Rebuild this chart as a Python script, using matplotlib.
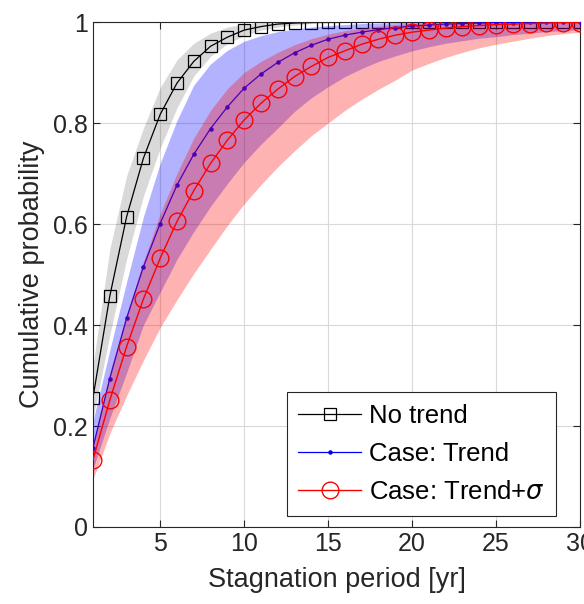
import matplotlib.pyplot as plt
import numpy as np

plt.rcParams['font.family'] = ['Liberation Sans', 'DejaVu Sans']

# Stagnation period [yr]
years = list(range(1, 31))

# cumulative probability
no_trend = [0.256, 0.457, 0.614, 0.730, 0.817, 0.879, 0.922, 0.952, 0.970, 0.984,
            0.991, 0.996, 0.998, 0.999, 1.0, 1.0, 1.0, 1.0, 1.0, 1.0,
            1.0, 1.0, 1.0, 1.0, 1.0, 1.0, 1.0, 1.0, 1.0, 1.0]
no_trend_lo = [0.215, 0.38, 0.53, 0.655, 0.75, 0.83, 0.893, 0.932, 0.957, 0.973,
               0.984, 0.99, 0.994, 0.997, 0.998, 0.999, 1.0, 1.0, 1.0, 1.0,
               1.0, 1.0, 1.0, 1.0, 1.0, 1.0, 1.0, 1.0, 1.0, 1.0]
no_trend_hi = [0.32, 0.55, 0.695, 0.79, 0.87, 0.925, 0.958, 0.978, 0.99, 0.996,
               0.999, 1.0, 1.0, 1.0, 1.0, 1.0, 1.0, 1.0, 1.0, 1.0,
               1.0, 1.0, 1.0, 1.0, 1.0, 1.0, 1.0, 1.0, 1.0, 1.0]

trend = [0.157, 0.294, 0.413, 0.515, 0.601, 0.677, 0.738, 0.789, 0.832, 0.869,
         0.897, 0.920, 0.939, 0.954, 0.966, 0.974, 0.980, 0.985, 0.989, 0.992,
         0.994, 0.996, 0.997, 0.998, 0.999, 0.999, 1.0, 1.0, 1.0, 1.0]
trend_lo = [0.115, 0.215, 0.305, 0.40, 0.465, 0.53, 0.585, 0.635, 0.68, 0.722,
            0.758, 0.79, 0.823, 0.85, 0.872, 0.892, 0.908, 0.922, 0.933, 0.943,
            0.951, 0.958, 0.963, 0.968, 0.971, 0.975, 0.978, 0.981, 0.983, 0.985]
trend_hi = [0.21, 0.35, 0.485, 0.614, 0.72, 0.805, 0.875, 0.917, 0.944, 0.962,
            0.973, 0.981, 0.986, 0.99, 0.993, 0.995, 0.997, 0.998, 0.999, 1.0,
            1.0, 1.0, 1.0, 1.0, 1.0, 1.0, 1.0, 1.0, 1.0, 1.0]

trend_sig = [0.133, 0.251, 0.357, 0.451, 0.532, 0.605, 0.666, 0.720, 0.766, 0.806,
             0.839, 0.867, 0.892, 0.912, 0.930, 0.943, 0.956, 0.966, 0.974, 0.980,
             0.984, 0.988, 0.991, 0.993, 0.995, 0.996, 0.997, 0.998, 0.999, 0.999]
trend_sig_lo = [0.095, 0.185, 0.26, 0.33, 0.395, 0.45, 0.502, 0.55, 0.597, 0.64,
                0.678, 0.713, 0.745, 0.775, 0.80, 0.825, 0.847, 0.867, 0.885, 0.905,
                0.918, 0.93, 0.94, 0.949, 0.956, 0.962, 0.968, 0.973, 0.977, 0.98]
trend_sig_hi = [0.165, 0.305, 0.42, 0.525, 0.62, 0.70, 0.77, 0.825, 0.868, 0.90,
                0.922, 0.94, 0.955, 0.967, 0.976, 0.983, 0.988, 0.992, 0.995, 0.997,
                0.998, 0.999, 1.0, 1.0, 1.0, 1.0, 1.0, 1.0, 1.0, 1.0]

fig = plt.figure(figsize=(5.84, 6.04), dpi=100)
ax = fig.add_axes([0.1592, 0.1275, 0.834, 0.836])

# bands first, then lines on top (blue line sits under the red band)
ax.fill_between(years, no_trend_lo, no_trend_hi, color='k', alpha=0.15, lw=0, zorder=1)
ax.plot(years, no_trend, color='k', ls='-', marker='s', lw=0.9, ms=8, mfc='none',
        mew=0.9, label='No trend', zorder=2)
ax.fill_between(years, trend_lo, trend_hi, color='b', alpha=0.3, lw=0, zorder=3)
ax.plot(years, trend, color='b', ls='-', marker='.', lw=0.9, ms=4.5,
        label='Case: Trend', zorder=4)
ax.fill_between(years, trend_sig_lo, trend_sig_hi, color='r', alpha=0.3, lw=0, zorder=5)
ax.plot(years, trend_sig, color='r', ls='-', marker='o', lw=1.0, ms=12, mfc='none',
        mew=1.0, label='Case: Trend+$\\sigma$', zorder=6)

ax.set_xlim(1, 30)
ax.set_ylim(0, 1)
ax.set_xticks([5, 10, 15, 20, 25, 30])
ax.set_yticks([0, 0.2, 0.4, 0.6, 0.8, 1])
ax.set_yticklabels(['0', '0.2', '0.4', '0.6', '0.8', '1'])
ax.grid(True, color='0.85', lw=0.8)
ax.set_axisbelow(True)
ax.tick_params(direction='in', top=True, right=True, labelsize=18, length=5,
               width=0.8, colors='0.15')
for s in ax.spines.values():
    s.set_color('0.15')
    s.set_linewidth(0.8)

ax.set_xlabel('Stagnation period [yr]', fontsize=19.5, color='0.15', labelpad=8)
ax.set_ylabel('Cumulative probability', fontsize=19.5, color='0.15', labelpad=6)

leg = ax.legend(loc='lower right', bbox_to_anchor=(0.951, 0.022), borderaxespad=0,
                fontsize=18.5, fancybox=False, edgecolor='0.15', framealpha=1,
                handlelength=2.45, numpoints=1, borderpad=0.45, labelspacing=0.55,
                handletextpad=0.3)
leg.get_frame().set_linewidth(0.8)

fig.savefig('out.png', dpi=100)
